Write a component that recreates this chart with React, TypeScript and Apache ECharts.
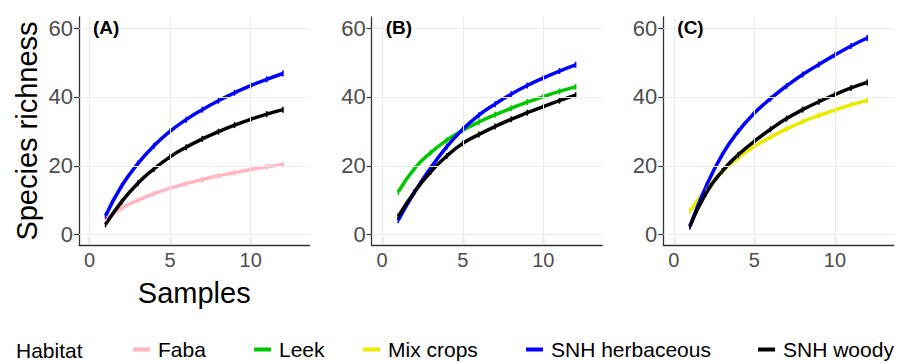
import React, { useEffect, useRef } from "react";
import * as echarts from "echarts";

// ---- data ----
const samples = [1, 2, 3, 4, 5, 6, 7, 8, 9, 10, 11, 12];
const habitats = ["Faba", "Leek", "Mix crops", "SNH herbaceous", "SNH woody"];
const panelLabels = ["(A)", "(B)", "(C)"];
const xTicks = [0, 5, 10];
const yTicks = [0, 20, 40, 60];

// Panel A
const aFaba = [4.5, 7.7, 10.0, 11.9, 13.5, 14.8, 16.0, 17.1, 18.0, 18.9, 19.7, 20.4];
const aHerb = [5.5, 14.2, 20.6, 25.8, 30.0, 33.4, 36.3, 38.9, 41.2, 43.3, 45.1, 46.8];
const aWoody = [3.0, 9.6, 14.9, 19.1, 22.6, 25.4, 27.8, 29.9, 31.8, 33.5, 35.0, 36.3];
// Panel B
const bLeek = [12.4, 19.2, 23.8, 27.4, 30.3, 32.7, 34.8, 36.7, 38.5, 40.1, 41.6, 42.9];
const bHerb = [4.2, 12.3, 19.3, 25.5, 30.6, 34.7, 37.9, 40.8, 43.3, 45.5, 47.5, 49.3];
const bWoody = [5.3, 12.4, 18.2, 22.8, 26.5, 29.1, 31.4, 33.5, 35.4, 37.2, 38.9, 40.5];
// Panel C
const cMix = [6.8, 13.2, 18.3, 22.3, 25.6, 28.3, 30.7, 32.8, 34.6, 36.2, 37.7, 39.0];
const cHerb = [2.4, 14.0, 23.2, 30.0, 35.3, 39.5, 43.2, 46.5, 49.4, 52.2, 54.8, 57.1];
const cWoody = [2.5, 12.0, 18.4, 23.2, 27.1, 30.6, 33.7, 36.3, 38.6, 40.7, 42.6, 44.2];

const panels = [
  [
    { name: "Faba", values: aFaba },
    { name: "SNH herbaceous", values: aHerb },
    { name: "SNH woody", values: aWoody },
  ],
  [
    { name: "Leek", values: bLeek },
    { name: "SNH herbaceous", values: bHerb },
    { name: "SNH woody", values: bWoody },
  ],
  [
    { name: "Mix crops", values: cMix },
    { name: "SNH herbaceous", values: cHerb },
    { name: "SNH woody", values: cWoody },
  ],
];

// ---- styles / layout ----
const FONT = "'Liberation Sans', Arial, sans-serif";
const colors: Record<string, string> = {
  Faba: "#ffb6c1",
  Leek: "#00c800",
  "Mix crops": "#eaea00",
  "SNH herbaceous": "#0000ff",
  "SNH woody": "#000000",
};
const gridLefts = [79, 371.7, 663.3];
const GRID_TOP = 17;
const GRID_W = 230.5;
const GRID_H = 228;
const legendLefts = [133, 254, 363, 526, 758];
const LEGEND_TOP = 339;

export default function App() {
  const ref = useRef<HTMLDivElement>(null);

  useEffect(() => {
    if (!ref.current) return;
    const chart = echarts.init(ref.current, undefined, { renderer: "svg" });

    const grid = gridLefts.map((left) => ({
      left,
      top: GRID_TOP,
      width: GRID_W,
      height: GRID_H,
      containLabel: false,
    }));

    const xAxis = gridLefts.map((_, i) => ({
      type: "value",
      gridIndex: i,
      min: -0.65,
      max: 13.65,
      name: i === 0 ? "Samples" : "",
      nameLocation: "middle",
      nameGap: 33,
      nameTextStyle: { fontSize: 29, color: "#000", fontFamily: FONT },
      axisLine: { show: true, onZero: false, lineStyle: { color: "#333", width: 1.3 } },
      axisTick: {
        show: true,
        inside: true,
        length: 7,
        customValues: xTicks,
        lineStyle: { color: "#333", width: 1.2 },
      },
      axisLabel: {
        customValues: xTicks,
        color: "#4d4d4d",
        fontSize: 20,
        fontFamily: FONT,
        margin: 5,
      },
      splitLine: { show: false },
    }));

    const yAxis = gridLefts.map((_, i) => ({
      type: "value",
      gridIndex: i,
      min: -3,
      max: 63.2,
      name: i === 0 ? "Species richness" : "",
      nameLocation: "middle",
      nameGap: 38,
      nameTextStyle: { fontSize: 29, color: "#000", fontFamily: FONT },
      axisLine: { show: true, onZero: false, lineStyle: { color: "#333", width: 1.3 } },
      axisTick: {
        show: true,
        inside: false,
        length: 5,
        customValues: yTicks,
        lineStyle: { color: "#333", width: 1.2 },
      },
      axisLabel: {
        customValues: yTicks,
        color: "#4d4d4d",
        fontSize: 22,
        fontFamily: FONT,
        margin: 6,
      },
      splitLine: { show: false },
    }));

    const series: any[] = [];
    panels.forEach((panel, i) => {
      // grid lines through the axes' own scales
      series.push({
        type: "line",
        xAxisIndex: i,
        yAxisIndex: i,
        data: [],
        silent: true,
        z: 1,
        markLine: {
          silent: true,
          symbol: "none",
          animation: false,
          label: { show: false },
          lineStyle: { color: "#ebebeb", width: 1, type: "solid" },
          data: [
            ...xTicks.map((v) => ({ xAxis: v })),
            ...yTicks.map((v) => ({ yAxis: v })),
          ],
        },
      });
      panel.forEach((s) => {
        series.push({
          type: "line",
          name: s.name,
          xAxisIndex: i,
          yAxisIndex: i,
          z: 3,
          smooth: 0.5,
          data: samples.map((x, k) => [x, s.values[k]]),
          symbol: "rect",
          symbolSize: [1.6, 6],
          showSymbol: true,
          itemStyle: { color: colors[s.name] },
          lineStyle: { color: colors[s.name], width: 3.5 },
        });
      });
    });

    const legend = habitats.map((name, i) => ({
      data: [name],
      left: legendLefts[i],
      top: LEGEND_TOP,
      padding: 0,
      icon: "rect",
      itemWidth: 17,
      itemHeight: 4,
      itemGap: 0,
      selectedMode: false,
      textStyle: {
        fontSize: 21,
        color: "#000",
        fontFamily: FONT,
        padding: [0, 0, 0, 3],
      },
    }));

    const graphic: any[] = [
      {
        type: "text",
        x: 16,
        y: 350.5,
        style: {
          text: "Habitat",
          fontSize: 21,
          fontFamily: FONT,
          fill: "#000",
          textVerticalAlign: "middle",
        },
      },
      ...panelLabels.map((t, i) => ({
        type: "text",
        x: gridLefts[i] + 14,
        y: 27,
        z: 10,
        style: {
          text: t,
          fontSize: 19,
          fontWeight: "bold",
          fontFamily: FONT,
          fill: "#000",
          textVerticalAlign: "middle",
        },
      })),
    ];

    chart.setOption({
      animation: false,
      backgroundColor: "#ffffff",
      grid,
      xAxis,
      yAxis,
      series,
      legend,
      graphic,
    });

    return () => chart.dispose();
  }, []);

  return (
    <div
      ref={ref}
      style={{ position: "fixed", left: 0, top: 0, width: 899, height: 363 }}
    />
  );
}
